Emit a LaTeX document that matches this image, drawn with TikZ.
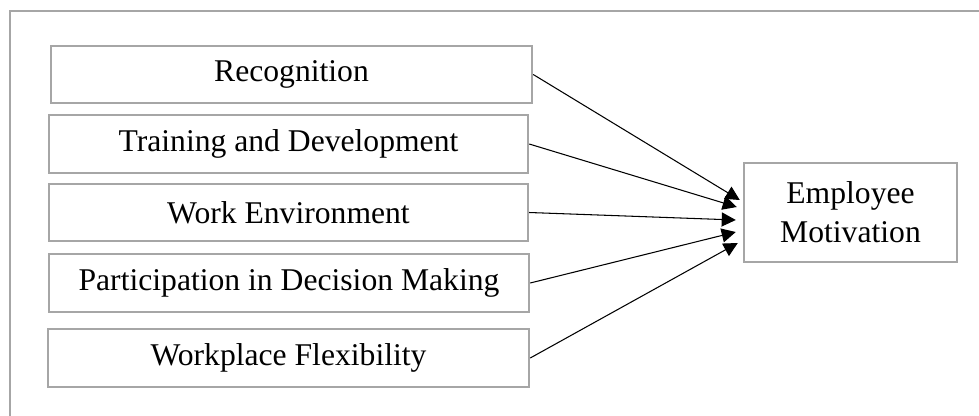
\documentclass[tikz,border=0pt]{standalone}
\usepackage{fontspec}
\setmainfont{Liberation Serif}
\usetikzlibrary{arrows.meta}
\definecolor{framegray}{RGB}{166,166,166}
\begin{document}
\begin{tikzpicture}[factor/.style={draw=framegray, line width=1.4pt, minimum width=9.6cm, minimum height=1.15cm, inner sep=0pt, font=\fontsize{18}{22}\selectfont},
link/.style={-{Triangle[length=8pt,width=8pt]}, line width=0.6pt}]
\useasboundingbox (0,0) rectangle (19.58,8.3);
\draw[draw=framegray, line width=1.5pt] (0.2,-0.1) -- (0.2,8.08) -- (19.7,8.08);

\node[factor, minimum width=9.62cm] (rec) at (5.83,6.81) {Recognition};
\node[factor, minimum width=9.58cm] (train) at (5.77,5.42) {Training and Development};
\node[factor, minimum width=9.58cm] (env) at (5.77,4.05) {Work Environment};
\node[factor] (part) at (5.78,2.64) {Participation in Decision Making};
\node[factor, minimum width=9.62cm] (flex) at (5.77,1.14) {Workplace Flexibility};
\node[factor, minimum width=4.26cm, minimum height=1.98cm, align=center] (emp) at (17.01,4.05) {Employee\\Motivation};

\foreach \src/\dx/\dy in {rec/-0.06/0.25, train/-0.12/0.11, env/-0.14/-0.15, part/-0.14/-0.39, flex/-0.1/-0.61}
  \draw[link] (\src.east) -- ([shift={(\dx,\dy)}]emp.west);
\end{tikzpicture}
\end{document}
